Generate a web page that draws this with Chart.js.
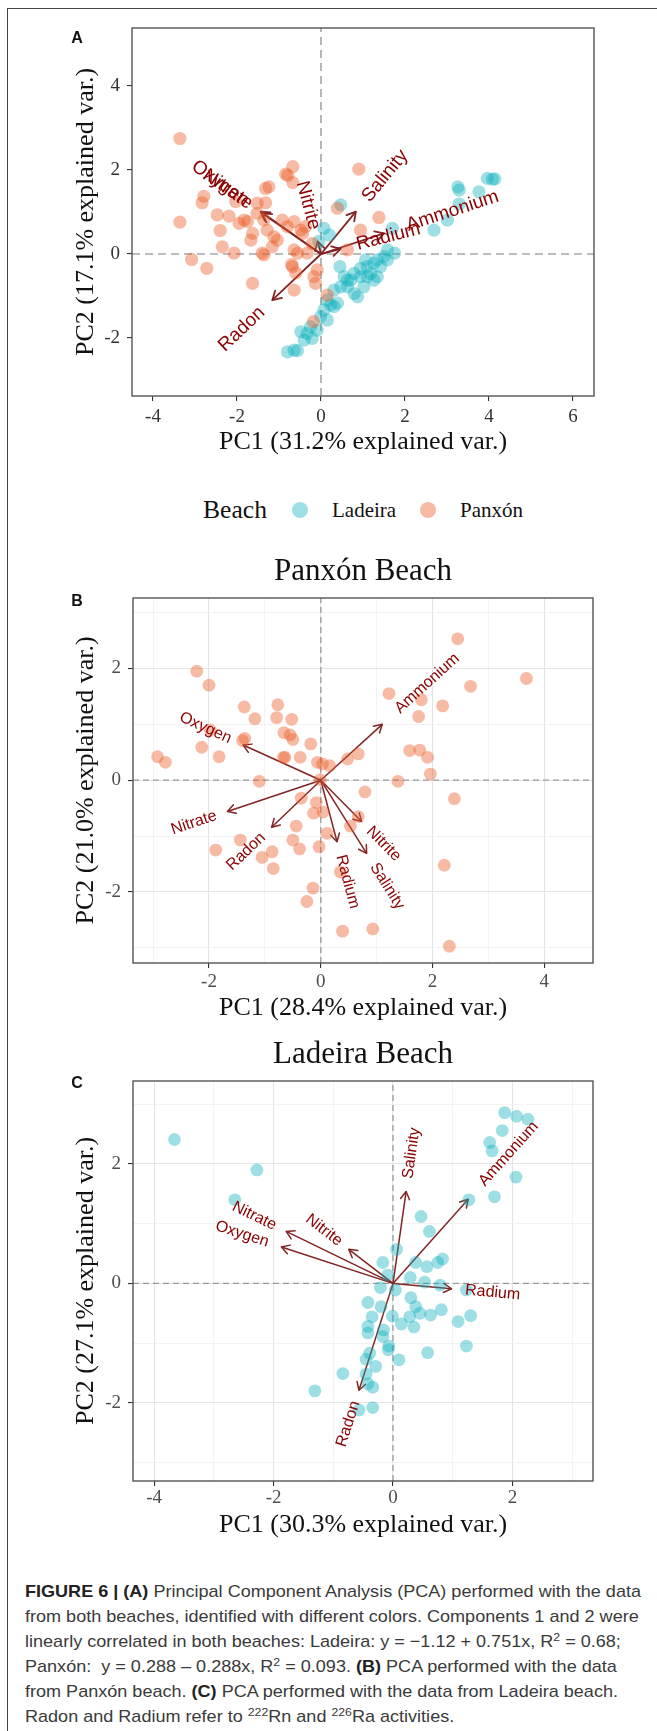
<!DOCTYPE html>
<html><head><meta charset="utf-8">
<script src="https://cdn.jsdelivr.net/npm/chart.js@4.4.0/dist/chart.umd.min.js"></script>
<style>
html,body{margin:0;padding:0;background:#fff;}
#page{position:relative;width:657px;height:1731px;overflow:hidden;background:#fff;}
#frame{position:absolute;left:7px;top:8px;width:800px;height:1800px;border-left:1.5px solid #444;border-top:1.5px solid #444;}
canvas{position:absolute;left:0;}
.serif{position:absolute;font-family:"Liberation Serif","Times New Roman",serif;color:#111;white-space:nowrap;}
.letter{position:absolute;width:30px;text-align:center;font-family:"Liberation Sans",Arial,sans-serif;font-weight:bold;font-size:16px;line-height:20px;color:#111;}
.dot{position:absolute;width:16px;height:16px;border-radius:50%;}
#caption{position:absolute;left:25px;top:1579px;font-family:"Liberation Sans",Arial,sans-serif;font-size:17px;line-height:25px;color:#3a3a3a;transform-origin:0 0;white-space:nowrap;}
#caption b{color:#222;}
#caption sup{font-size:0.68em;vertical-align:baseline;position:relative;top:-0.5em;line-height:0;}
</style></head>
<body><div id="page">
<div id="frame"></div>
<canvas id="cA" width="657" height="470" style="top:0px"></canvas>
<canvas id="cB" width="657" height="440" style="top:585px"></canvas>
<canvas id="cC" width="657" height="480" style="top:1068px"></canvas>
<div class="letter" style="left:62px;top:28px;">A</div>
<div class="letter" style="left:62px;top:591px;">B</div>
<div class="letter" style="left:62px;top:1073px;">C</div>
<div class="serif" style="left:203px;top:494px;font-size:25.6px;line-height:32px;">Beach</div>
<div class="dot" style="left:292px;top:502px;background:rgba(10,175,188,0.4)"></div>
<div class="serif" style="left:332px;top:497px;font-size:21px;line-height:26px;">Ladeira</div>
<div class="dot" style="left:420px;top:502px;background:rgba(236,92,40,0.42)"></div>
<div class="serif" style="left:460px;top:497px;font-size:21px;line-height:26px;">Panxón</div>
<div class="serif" style="left:0;width:726px;text-align:center;top:550px;font-size:31px;line-height:40px;">Panxón Beach</div>
<div class="serif" style="left:0;width:726px;text-align:center;top:1033px;font-size:31px;line-height:40px;">Ladeira Beach</div>
<div id="caption">
<div id="cap1"><b>FIGURE 6 | (A)</b> Principal Component Analysis (PCA) performed with the data</div>
<div>from both beaches, identified with different colors. Components 1 and 2 were</div>
<div>linearly correlated in both beaches: Ladeira: y = −1.12 + 0.751x, R<sup>2</sup> = 0.68;</div>
<div>Panxón:&nbsp; y = 0.288 – 0.288x, R<sup>2</sup> = 0.093. <b>(B)</b> PCA performed with the data</div>
<div>from Panxón beach. <b>(C)</b> PCA performed with the data from Ladeira beach.</div>
<div>Radon and Radium refer to <sup>222</sup>Rn and <sup>226</sup>Ra activities.</div>
</div>
</div>
<script>
// ---------- DATA ----------
const varNames = ['Oxygen','Nitrate','Nitrite','Salinity','Ammonium','Radium','Radon'];

// Panel A (both beaches)
const panxonA = [[-3.36,2.75],[-0.67,2.08],[-0.84,1.90],[-0.79,1.87],[-0.67,1.70],[0.90,2.02],[-1.32,1.56],[-1.24,1.60],[-2.79,1.37],[-2.83,1.22],[-3.36,0.76],[-2.47,0.93],[-2.19,0.90],[-2.40,0.56],[-2.35,0.17],[-2.07,0.02],[-3.08,-0.13],[-2.72,-0.34],[-1.63,-0.70],[-1.83,0.81],[-1.75,0.77],[-1.67,0.33],[-1.52,1.21],[-1.32,1.22],[-1.36,0.81],[-1.28,0.57],[-1.12,0.41],[-1.04,0.33],[-0.92,0.81],[-0.80,0.65],[-0.64,0.77],[-0.48,0.57],[-1.40,0.02],[-1.36,-0.02],[-0.56,0.02],[-0.68,-0.30],[-0.64,-0.86],[-0.13,-0.70],[-0.17,-0.54],[-0.09,-0.38],[-0.21,0.25],[0.39,1.09],[0.94,0.57],[1.38,0.87],[0.63,0.10],[0.15,-0.98],[-0.18,-1.61],[-0.44,0.49],[-0.37,0.65],[-0.64,0.10],[-1.16,0.17],[-1.63,0.49],[-1.95,0.73],[-2.03,1.25],[-1.52,0.97],[-0.33,0.02],[-0.70,-0.25],[-0.60,-0.45]];
const ladeiraA = [[3.96,1.80],[4.08,1.78],[4.14,1.79],[3.26,1.60],[3.29,1.52],[3.76,1.48],[3.29,1.19],[3.01,0.81],[2.69,0.57],[1.70,0.61],[1.75,0.02],[1.58,0.10],[0.47,1.17],[0.07,0.61],[1.50,-0.06],[1.34,-0.14],[1.26,-0.22],[1.10,-0.30],[1.18,-0.46],[0.94,-0.54],[0.79,-0.46],[0.71,-0.62],[0.63,-0.78],[0.47,-0.78],[0.31,-0.86],[0.15,-1.10],[0.31,-1.25],[0.39,-1.17],[0.07,-1.33],[-0.01,-1.49],[-0.09,-1.81],[-0.33,-1.89],[-0.48,-1.85],[-0.80,-2.33],[-0.64,-2.29],[-0.56,-2.30],[0.87,-1.02],[1.02,-0.78],[0.79,-0.94],[1.34,-0.54],[1.42,-0.30],[1.26,-0.62],[1.10,-0.54],[0.15,-1.57],[-0.25,-1.73],[0.23,-1.21],[0.63,-0.62],[0.94,-0.34],[1.58,-0.14],[-0.21,-2.01],[-0.40,-2.05],[1.06,-0.14],[0.55,-0.54],[0.45,-0.30],[0.20,0.45],[-0.05,0.30]];
const loadingsA = [[-1.44,1.01],[-1.40,0.97],[-0.08,0.30],[0.83,1.01],[1.50,0.49],[0.47,0.12],[-1.16,-1.10]];
const xTicksA = [-4,-2,0,2,4,6];
const yTicksA = [-2,0,2,4];
const xTitleA = 'PC1 (31.2% explained var.)';
const yTitleA = 'PC2 (17.1% explained var.)';

// Panel B (Panxón)
const panxonB = [[2.45,2.53],[-2.22,1.95],[-2.00,1.70],[3.68,1.82],[2.68,1.68],[1.22,1.55],[1.80,1.44],[2.18,1.33],[1.75,1.14],[-1.37,1.31],[-0.77,1.35],[-0.79,1.12],[-1.18,1.10],[-0.52,1.09],[-0.66,0.85],[-0.55,0.81],[-0.50,0.73],[-1.36,0.75],[-1.40,0.71],[-1.98,0.90],[-2.13,0.59],[-1.82,0.42],[-2.92,0.42],[-2.78,0.32],[-0.18,0.65],[-0.67,0.41],[-0.64,0.41],[-0.37,0.41],[-0.06,0.32],[0.03,0.29],[0.16,0.26],[0.48,0.38],[0.67,0.47],[1.59,0.53],[1.77,0.54],[1.91,0.41],[1.96,0.11],[1.38,-0.02],[-1.10,-0.02],[-0.01,0.01],[0.79,-0.21],[2.39,-0.33],[-0.35,-0.32],[-0.08,-0.40],[-0.13,-0.59],[0.04,-0.57],[0.67,-0.65],[0.53,-0.82],[-0.44,-0.82],[0.11,-0.95],[-0.50,-1.07],[-0.38,-1.23],[-0.03,-1.19],[-1.44,-1.07],[-1.88,-1.25],[-0.87,-1.28],[-1.05,-1.38],[-0.85,-1.58],[2.21,-1.52],[0.35,-1.64],[-0.14,-1.93],[-0.25,-2.17],[0.39,-2.70],[0.93,-2.66],[2.30,-2.97]];
const loadingsB = [[-1.39,0.63],[-1.67,-0.56],[0.73,-0.74],[0.82,-1.31],[1.10,1.00],[0.29,-1.10],[-0.88,-0.84]];
const xTicksB = [-3,-2,-1,0,1,2,3,4];
const yTicksB = [-3,-2,-1,0,1,2,3];
const xTitleB = 'PC1 (28.4% explained var.)';
const yTitleB = 'PC2 (21.0% explained var.)';

// Panel C (Ladeira)
const ladeiraC = [[-3.66,2.41],[-2.28,1.90],[-2.65,1.40],[1.87,2.86],[2.07,2.80],[2.26,2.75],[1.83,2.56],[1.62,2.36],[1.66,2.22],[2.06,1.78],[1.70,1.45],[1.27,1.40],[0.47,1.12],[0.61,0.87],[0.06,0.57],[-0.17,0.35],[0.38,0.35],[0.57,0.28],[0.75,0.35],[0.83,0.41],[-0.09,0.14],[0.29,0.10],[0.53,0.02],[0.79,-0.03],[1.23,-0.11],[-0.21,-0.07],[0.04,-0.11],[-0.42,-0.32],[-0.20,-0.39],[0.30,-0.24],[0.38,-0.39],[0.45,-0.50],[0.63,-0.53],[0.81,-0.44],[0.28,-0.56],[0.14,-0.68],[0.35,-0.73],[-0.01,-0.55],[-0.35,-0.56],[-0.42,-0.72],[-0.42,-0.83],[-0.16,-0.78],[-0.17,-0.89],[-0.07,-1.05],[-0.08,-1.11],[0.10,-1.28],[0.58,-1.16],[1.09,-0.64],[1.30,-0.54],[1.23,-1.05],[-0.39,-1.17],[-0.45,-1.27],[-0.29,-1.39],[-0.84,-1.51],[-0.45,-1.52],[-0.42,-1.68],[-0.34,-1.74],[-1.31,-1.80],[-0.57,-2.12],[-0.34,-2.08]];
const loadingsC = [[-1.87,0.61],[-1.79,0.87],[-0.74,0.57],[0.22,1.54],[1.26,1.41],[0.98,-0.09],[-0.57,-1.79]];
const xTicksC = [-4,-3,-2,-1,0,1,2,3];
const yTicksC = [-3,-2,-1,0,1,2,3];
const xTitleC = 'PC1 (30.3% explained var.)';
const yTitleC = 'PC2 (27.1% explained var.)';

// ---------- STYLE ----------
const COL_LADEIRA = 'rgba(10,175,188,0.4)';
const COL_PANXON = 'rgba(236,92,40,0.42)';
const SERIF = '"Liberation Serif","Times New Roman",serif';
const SANS = '"Liberation Sans",Arial,sans-serif';

const biplotPlugin = {
  id: 'biplot',
  afterDatasetDraw(chart, args, opts) {
    const ds = chart.data.datasets[args.index];
    if (!ds.isArrow) return;
    const pts = args.meta.data;
    const x0 = pts[0].x, y0 = pts[0].y, x1 = pts[1].x, y1 = pts[1].y;
    const ang = Math.atan2(y1 - y0, x1 - x0), a = Math.PI / 6, L = opts.headLen;
    const ctx = chart.ctx;
    ctx.save();
    ctx.strokeStyle = ds.borderColor; ctx.lineWidth = ds.borderWidth;
    ctx.lineCap = 'round'; ctx.lineJoin = 'round';
    ctx.beginPath();
    ctx.moveTo(x1 - L * Math.cos(ang - a), y1 - L * Math.sin(ang - a));
    ctx.lineTo(x1, y1);
    ctx.lineTo(x1 - L * Math.cos(ang + a), y1 - L * Math.sin(ang + a));
    ctx.stroke();
    ctx.restore();
  },
  afterDatasetsDraw(chart, args, opts) {
    const ctx = chart.ctx, xs = chart.scales.x, ys = chart.scales.y;
    ctx.save();
    ctx.font = opts.labelFont;
    ctx.fillStyle = '#8B0000';
    ctx.textBaseline = 'middle';
    ctx.textAlign = 'left';
    opts.names.forEach((n, i) => {
      const vx = opts.loadings[i][0], vy = opts.loadings[i][1];
      const px = xs.getPixelForValue(vx), py = ys.getPixelForValue(vy);
      const angle = Math.atan(vy / vx);
      const w = ctx.measureText(n).width;
      const hj = (1 - 1.5 * Math.sign(vx)) / 2;
      ctx.save();
      ctx.translate(px, py);
      ctx.rotate(-angle);
      ctx.fillText(n, -hj * w, 0);
      ctx.restore();
    });
    const ca = chart.chartArea;
    ctx.strokeStyle = opts.boxColor; ctx.lineWidth = opts.boxWidth;
    ctx.strokeRect(ca.left, ca.top, ca.right - ca.left, ca.bottom - ca.top);
    ctx.restore();
  }
};

function makeChart(id, s) {
  const toXY = a => a.map(p => ({x: p[0], y: p[1]}));
  const datasets = [];
  s.groups.forEach(g => datasets.push({label: g.name, data: toXY(g.data), backgroundColor: g.color,
    borderWidth: 0, pointRadius: s.r, pointHoverRadius: s.r, order: 1}));
  s.loadings.forEach((l, i) => datasets.push({label: varNames[i], isArrow: true,
    data: [{x: 0, y: 0}, {x: l[0], y: l[1]}], showLine: true, pointRadius: 0, pointHoverRadius: 0,
    borderColor: '#832424', borderWidth: s.arrowW, fill: false, order: 2}));
  datasets.push({label: 'h0', data: [{x: s.x[0], y: 0}, {x: s.x[1], y: 0}], showLine: true, pointRadius: 0,
    borderColor: s.zeroColor, borderWidth: s.zeroW, borderDash: s.dash, order: 3});
  datasets.push({label: 'v0', data: [{x: 0, y: s.y[0]}, {x: 0, y: s.y[1]}], showLine: true, pointRadius: 0,
    borderColor: s.zeroColor, borderWidth: s.zeroW, borderDash: s.dash, order: 3});
  const isMajor = v => s.minor ? (Math.abs(Math.round(v)) % 2 === 0) : true;
  const gridCfg = {
    drawOnChartArea: s.grid, drawTicks: true, tickLength: 5, tickWidth: 1.1,
    color: c => (c.tick && !isMajor(c.tick.value)) ? '#f0f0f0' : '#e4e4e4',
    lineWidth: c => (c.tick && !isMajor(c.tick.value)) ? 0.8 : 1.1,
    tickColor: c => (c.tick && !isMajor(c.tick.value)) ? 'rgba(0,0,0,0)' : '#333'
  };
  new Chart(document.getElementById(id), {
    type: 'scatter',
    data: {datasets},
    options: {
      responsive: false, animation: false, devicePixelRatio: 1, events: [],
      layout: {padding: {top: s.top, right: 657 - s.right, bottom: 0, left: 0}},
      plugins: {legend: {display: false}, tooltip: {enabled: false},
        biplot: {names: varNames, loadings: s.loadings, labelFont: s.labelFont, headLen: s.headLen, boxColor: '#555', boxWidth: 1.4}},
      scales: {
        x: {type: 'linear', position: 'bottom', min: s.x[0], max: s.x[1],
          afterBuildTicks: sc => { sc.ticks = s.xTicks.map(v => ({value: v})); },
          afterFit: sc => { sc.height = s.xAxisH; sc.paddingLeft = 0; sc.paddingRight = 0; },
          ticks: {autoSkip: false, maxRotation: 0, minRotation: 0, padding: s.xTickPad, color: s.tickColor,
            font: {family: SERIF, size: 19}, callback: v => isMajor(v) ? String(v) : ''},
          grid: gridCfg, border: {display: false},
          title: {display: true, text: s.xTitle, color: '#111', font: {family: SERIF, size: 26, lineHeight: 1.2},
            padding: {top: 0, bottom: s.xTitlePad}}
        },
        y: {type: 'linear', position: 'left', min: s.y[0], max: s.y[1],
          afterBuildTicks: sc => { sc.ticks = s.yTicks.map(v => ({value: v})); },
          afterFit: sc => { sc.width = s.left; sc.paddingTop = 0; sc.paddingBottom = 0; },
          ticks: {autoSkip: false, padding: 7, color: s.tickColor,
            font: {family: SERIF, size: 19}, callback: v => isMajor(v) ? String(v) : ''},
          grid: gridCfg, border: {display: false},
          title: {display: true, text: s.yTitle, color: '#111', font: {family: SERIF, size: 26, lineHeight: 1.2},
            padding: {top: 71, bottom: 0}}
        }
      }
    },
    plugins: [biplotPlugin]
  });
}

makeChart('cA', {
  groups: [{name: 'Panxón', data: panxonA, color: COL_PANXON}, {name: 'Ladeira', data: ladeiraA, color: COL_LADEIRA}],
  loadings: loadingsA, x: [-4.5, 6.5], y: [-3.38, 5.38], xTicks: xTicksA, yTicks: yTicksA, minor: false, grid: false,
  xTitle: xTitleA, yTitle: yTitleA, r: 6.6, arrowW: 1.8, headLen: 10, labelFont: '19px ' + SANS,
  zeroColor: '#a6a6a6', zeroW: 1.6, dash: [8, 5], top: 28, right: 594, left: 132, xAxisH: 74,
  xTickPad: 4.6, xTitlePad: 12.4, tickColor: '#333'
});
makeChart('cB', {
  groups: [{name: 'Panxón', data: panxonB, color: COL_PANXON}],
  loadings: loadingsB, x: [-3.36, 4.87], y: [-3.27, 3.26], xTicks: xTicksB, yTicks: yTicksB, minor: true, grid: true,
  xTitle: xTitleB, yTitle: yTitleB, r: 6.4, arrowW: 1.5, headLen: 9, labelFont: '16px ' + SANS,
  zeroColor: '#9a9a9a', zeroW: 1.3, dash: [6, 4], top: 13, right: 593, left: 133, xAxisH: 62,
  xTickPad: 2.6, xTitlePad: 1.4, tickColor: '#4d4d4d'
});
makeChart('cC', {
  groups: [{name: 'Ladeira', data: ladeiraC, color: COL_LADEIRA}],
  loadings: loadingsC, x: [-4.355, 3.35], y: [-3.31, 3.39], xTicks: xTicksC, yTicks: yTicksC, minor: true, grid: true,
  xTitle: xTitleC, yTitle: yTitleC, r: 6.4, arrowW: 1.5, headLen: 9, labelFont: '16px ' + SANS,
  zeroColor: '#9a9a9a', zeroW: 1.3, dash: [6, 4], top: 13, right: 593, left: 133, xAxisH: 67,
  xTickPad: 0.6, xTitlePad: 7.4, tickColor: '#4d4d4d'
});

// fit caption width to the reference line width
(function () {
  const cap = document.getElementById('caption');
  const l1 = document.getElementById('cap1');
  const range = document.createRange();
  range.selectNodeContents(l1);
  const w = range.getBoundingClientRect().width;
  if (w > 0) cap.style.transform = 'scaleX(' + (616 / w) + ')';
})();
</script>
</body></html>
